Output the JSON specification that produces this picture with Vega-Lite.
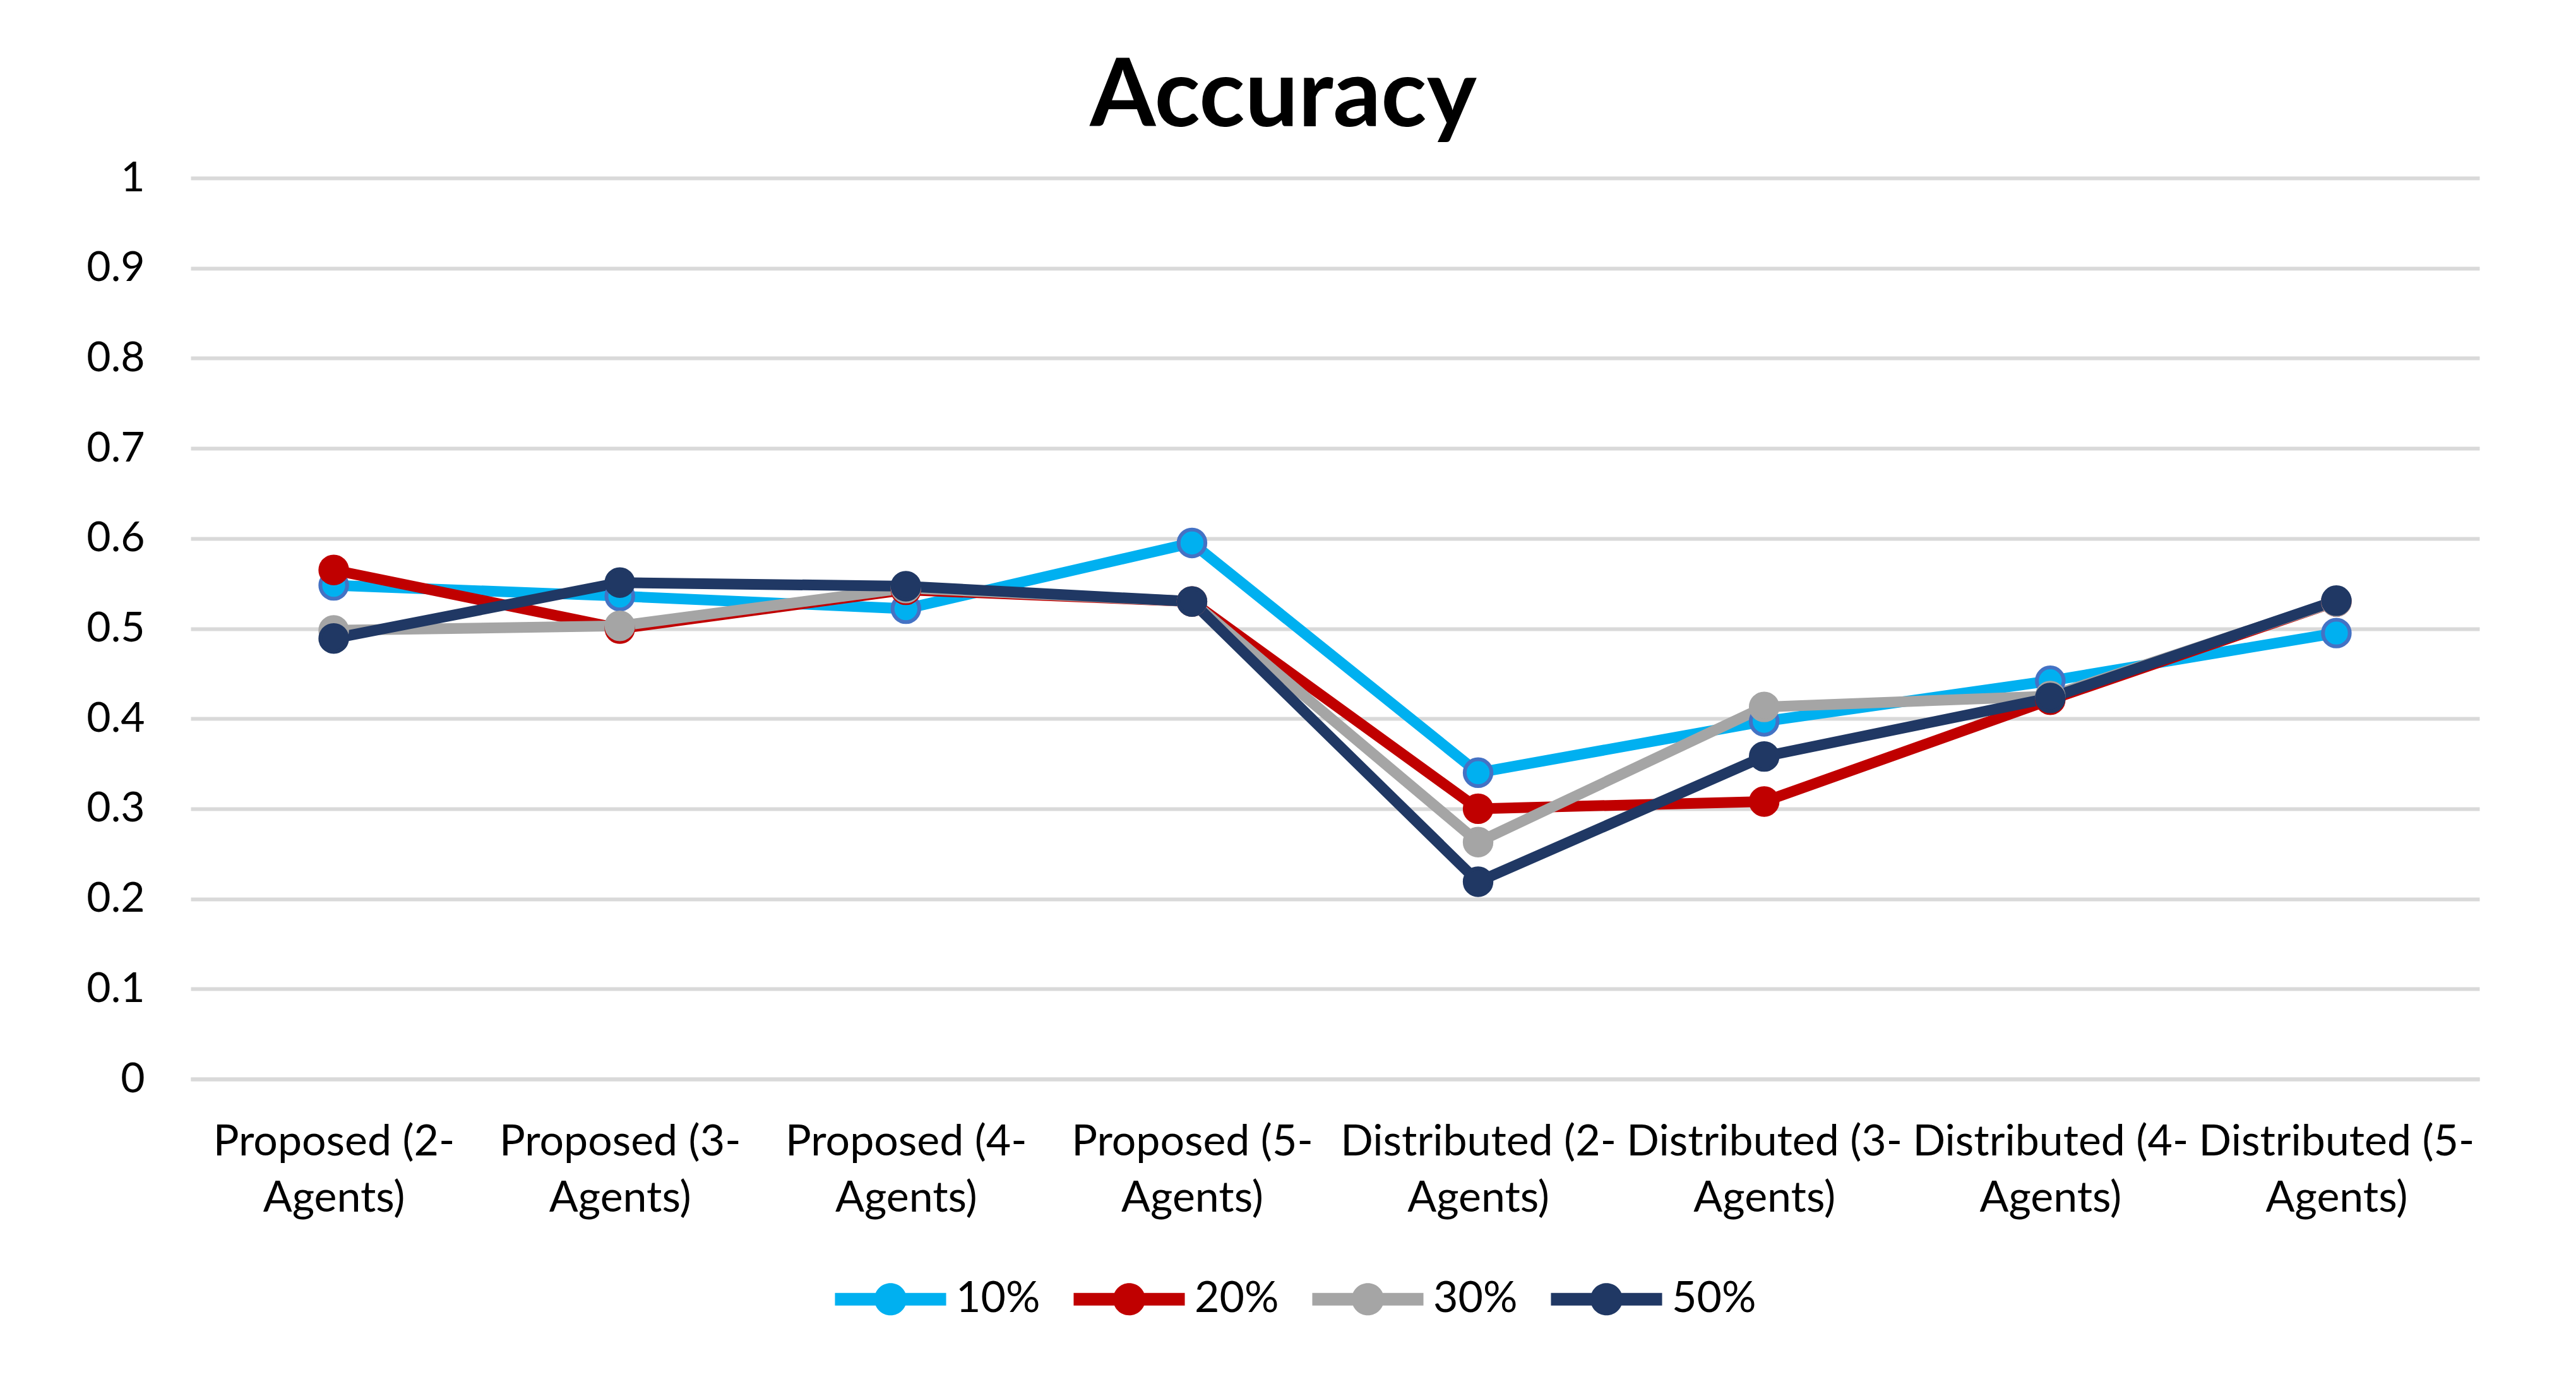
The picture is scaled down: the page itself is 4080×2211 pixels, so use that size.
{
  "$schema": "https://vega.github.io/schema/vega-lite/v6.json",
  "autosize": {"type": "none"},
  "width": 3625,
  "height": 1427,
  "padding": {"left": 302, "top": 282, "right": 153, "bottom": 502},
  "background": "white",
  "title": {
    "text": "Accuracy",
    "font": "Lato",
    "fontSize": 150,
    "fontWeight": "bold",
    "color": "#000000",
    "anchor": "middle",
    "dx": -82,
    "offset": 18
  },
  "data": {
    "values": [
      {"cat": "Proposed (2-Agents)", "series": "10%", "value": 0.548},
      {"cat": "Proposed (3-Agents)", "series": "10%", "value": 0.536},
      {"cat": "Proposed (4-Agents)", "series": "10%", "value": 0.522},
      {"cat": "Proposed (5-Agents)", "series": "10%", "value": 0.595},
      {"cat": "Distributed (2-Agents)", "series": "10%", "value": 0.340},
      {"cat": "Distributed (3-Agents)", "series": "10%", "value": 0.397},
      {"cat": "Distributed (4-Agents)", "series": "10%", "value": 0.442},
      {"cat": "Distributed (5-Agents)", "series": "10%", "value": 0.495},
      {"cat": "Proposed (2-Agents)", "series": "20%", "value": 0.565},
      {"cat": "Proposed (3-Agents)", "series": "20%", "value": 0.500},
      {"cat": "Proposed (4-Agents)", "series": "20%", "value": 0.543},
      {"cat": "Proposed (5-Agents)", "series": "20%", "value": 0.530},
      {"cat": "Distributed (2-Agents)", "series": "20%", "value": 0.300},
      {"cat": "Distributed (3-Agents)", "series": "20%", "value": 0.308},
      {"cat": "Distributed (4-Agents)", "series": "20%", "value": 0.421},
      {"cat": "Distributed (5-Agents)", "series": "20%", "value": 0.530},
      {"cat": "Proposed (2-Agents)", "series": "30%", "value": 0.498},
      {"cat": "Proposed (3-Agents)", "series": "30%", "value": 0.503},
      {"cat": "Proposed (4-Agents)", "series": "30%", "value": 0.545},
      {"cat": "Proposed (5-Agents)", "series": "30%", "value": 0.530},
      {"cat": "Distributed (2-Agents)", "series": "30%", "value": 0.263},
      {"cat": "Distributed (3-Agents)", "series": "30%", "value": 0.413},
      {"cat": "Distributed (4-Agents)", "series": "30%", "value": 0.425},
      {"cat": "Distributed (5-Agents)", "series": "30%", "value": 0.530},
      {"cat": "Proposed (2-Agents)", "series": "50%", "value": 0.489},
      {"cat": "Proposed (3-Agents)", "series": "50%", "value": 0.551},
      {"cat": "Proposed (4-Agents)", "series": "50%", "value": 0.547},
      {"cat": "Proposed (5-Agents)", "series": "50%", "value": 0.530},
      {"cat": "Distributed (2-Agents)", "series": "50%", "value": 0.219},
      {"cat": "Distributed (3-Agents)", "series": "50%", "value": 0.358},
      {"cat": "Distributed (4-Agents)", "series": "50%", "value": 0.423},
      {"cat": "Distributed (5-Agents)", "series": "50%", "value": 0.531}
    ]
  },
  "encoding": {
    "x": {
      "field": "cat",
      "type": "nominal",
      "sort": null,
      "scale": {"type": "point", "padding": 0.5},
      "axis": {
        "title": null,
        "labelAngle": 0,
        "labelFont": "Lato",
        "labelFontSize": 68,
        "labelColor": "#000000",
        "labelPadding": 66,
        "labelLineHeight": 89,
        "labelLimit": 1000,
        "labelExpr": "[slice(datum.label, 0, indexof(datum.label, '-') + 1), slice(datum.label, indexof(datum.label, '-') + 1)]",
        "ticks": false,
        "grid": false,
        "domain": true,
        "domainColor": "#D9D9D9",
        "domainWidth": 6
      }
    },
    "y": {
      "field": "value",
      "type": "quantitative",
      "scale": {"domain": [0, 1]},
      "axis": {
        "title": null,
        "values": [0, 0.1, 0.2, 0.3, 0.4, 0.5, 0.6, 0.7, 0.8, 0.9, 1],
        "format": "~g",
        "labelFont": "Lato",
        "labelFontSize": 66,
        "labelColor": "#000000",
        "labelPadding": 73,
        "ticks": false,
        "domain": false,
        "grid": true,
        "gridColor": "#D9D9D9",
        "gridWidth": 6
      }
    },
    "color": {
      "field": "series",
      "type": "nominal",
      "scale": {"domain": ["10%", "20%", "30%", "50%"], "range": ["#00B0F0", "#C00000", "#A5A5A5", "#203864"]},
      "legend": {
        "title": null,
        "orient": "none",
        "legendX": 1020,
        "legendY": 1687,
        "direction": "horizontal",
        "columns": 4,
        "symbolType": "M-1,-0.114 L1,-0.114 L1,0.114 L-1,0.114 Z M-0.29,0 A0.29,0.29 0 1,1 0.29,0 A0.29,0.29 0 1,1 -0.29,0 Z",
        "symbolSize": 31000,
        "symbolStrokeWidth": 0,
        "symbolOpacity": 1,
        "labelFont": "Lato",
        "labelFontSize": 68,
        "labelColor": "#000000",
        "labelOffset": 15,
        "columnPadding": 52,
        "encode": {
          "symbols": {
            "update": {
              "fill": {"scale": "color", "field": "value"},
              "strokeWidth": {"value": 0},
              "opacity": {"value": 1}
            }
          }
        }
      }
    }
  },
  "layer": [
    {
      "mark": {"type": "line", "strokeWidth": 17}
    },
    {
      "mark": {"type": "point", "filled": true, "size": 1800, "strokeWidth": 6, "opacity": 1},
      "encoding": {
        "stroke": {
          "field": "series",
          "type": "nominal",
          "scale": {"domain": ["10%", "20%", "30%", "50%"], "range": ["#4472C4", "#C00000", "#A5A5A5", "#203864"]},
          "legend": null
        }
      }
    }
  ],
  "config": {
    "view": {"stroke": null}
  }
}
